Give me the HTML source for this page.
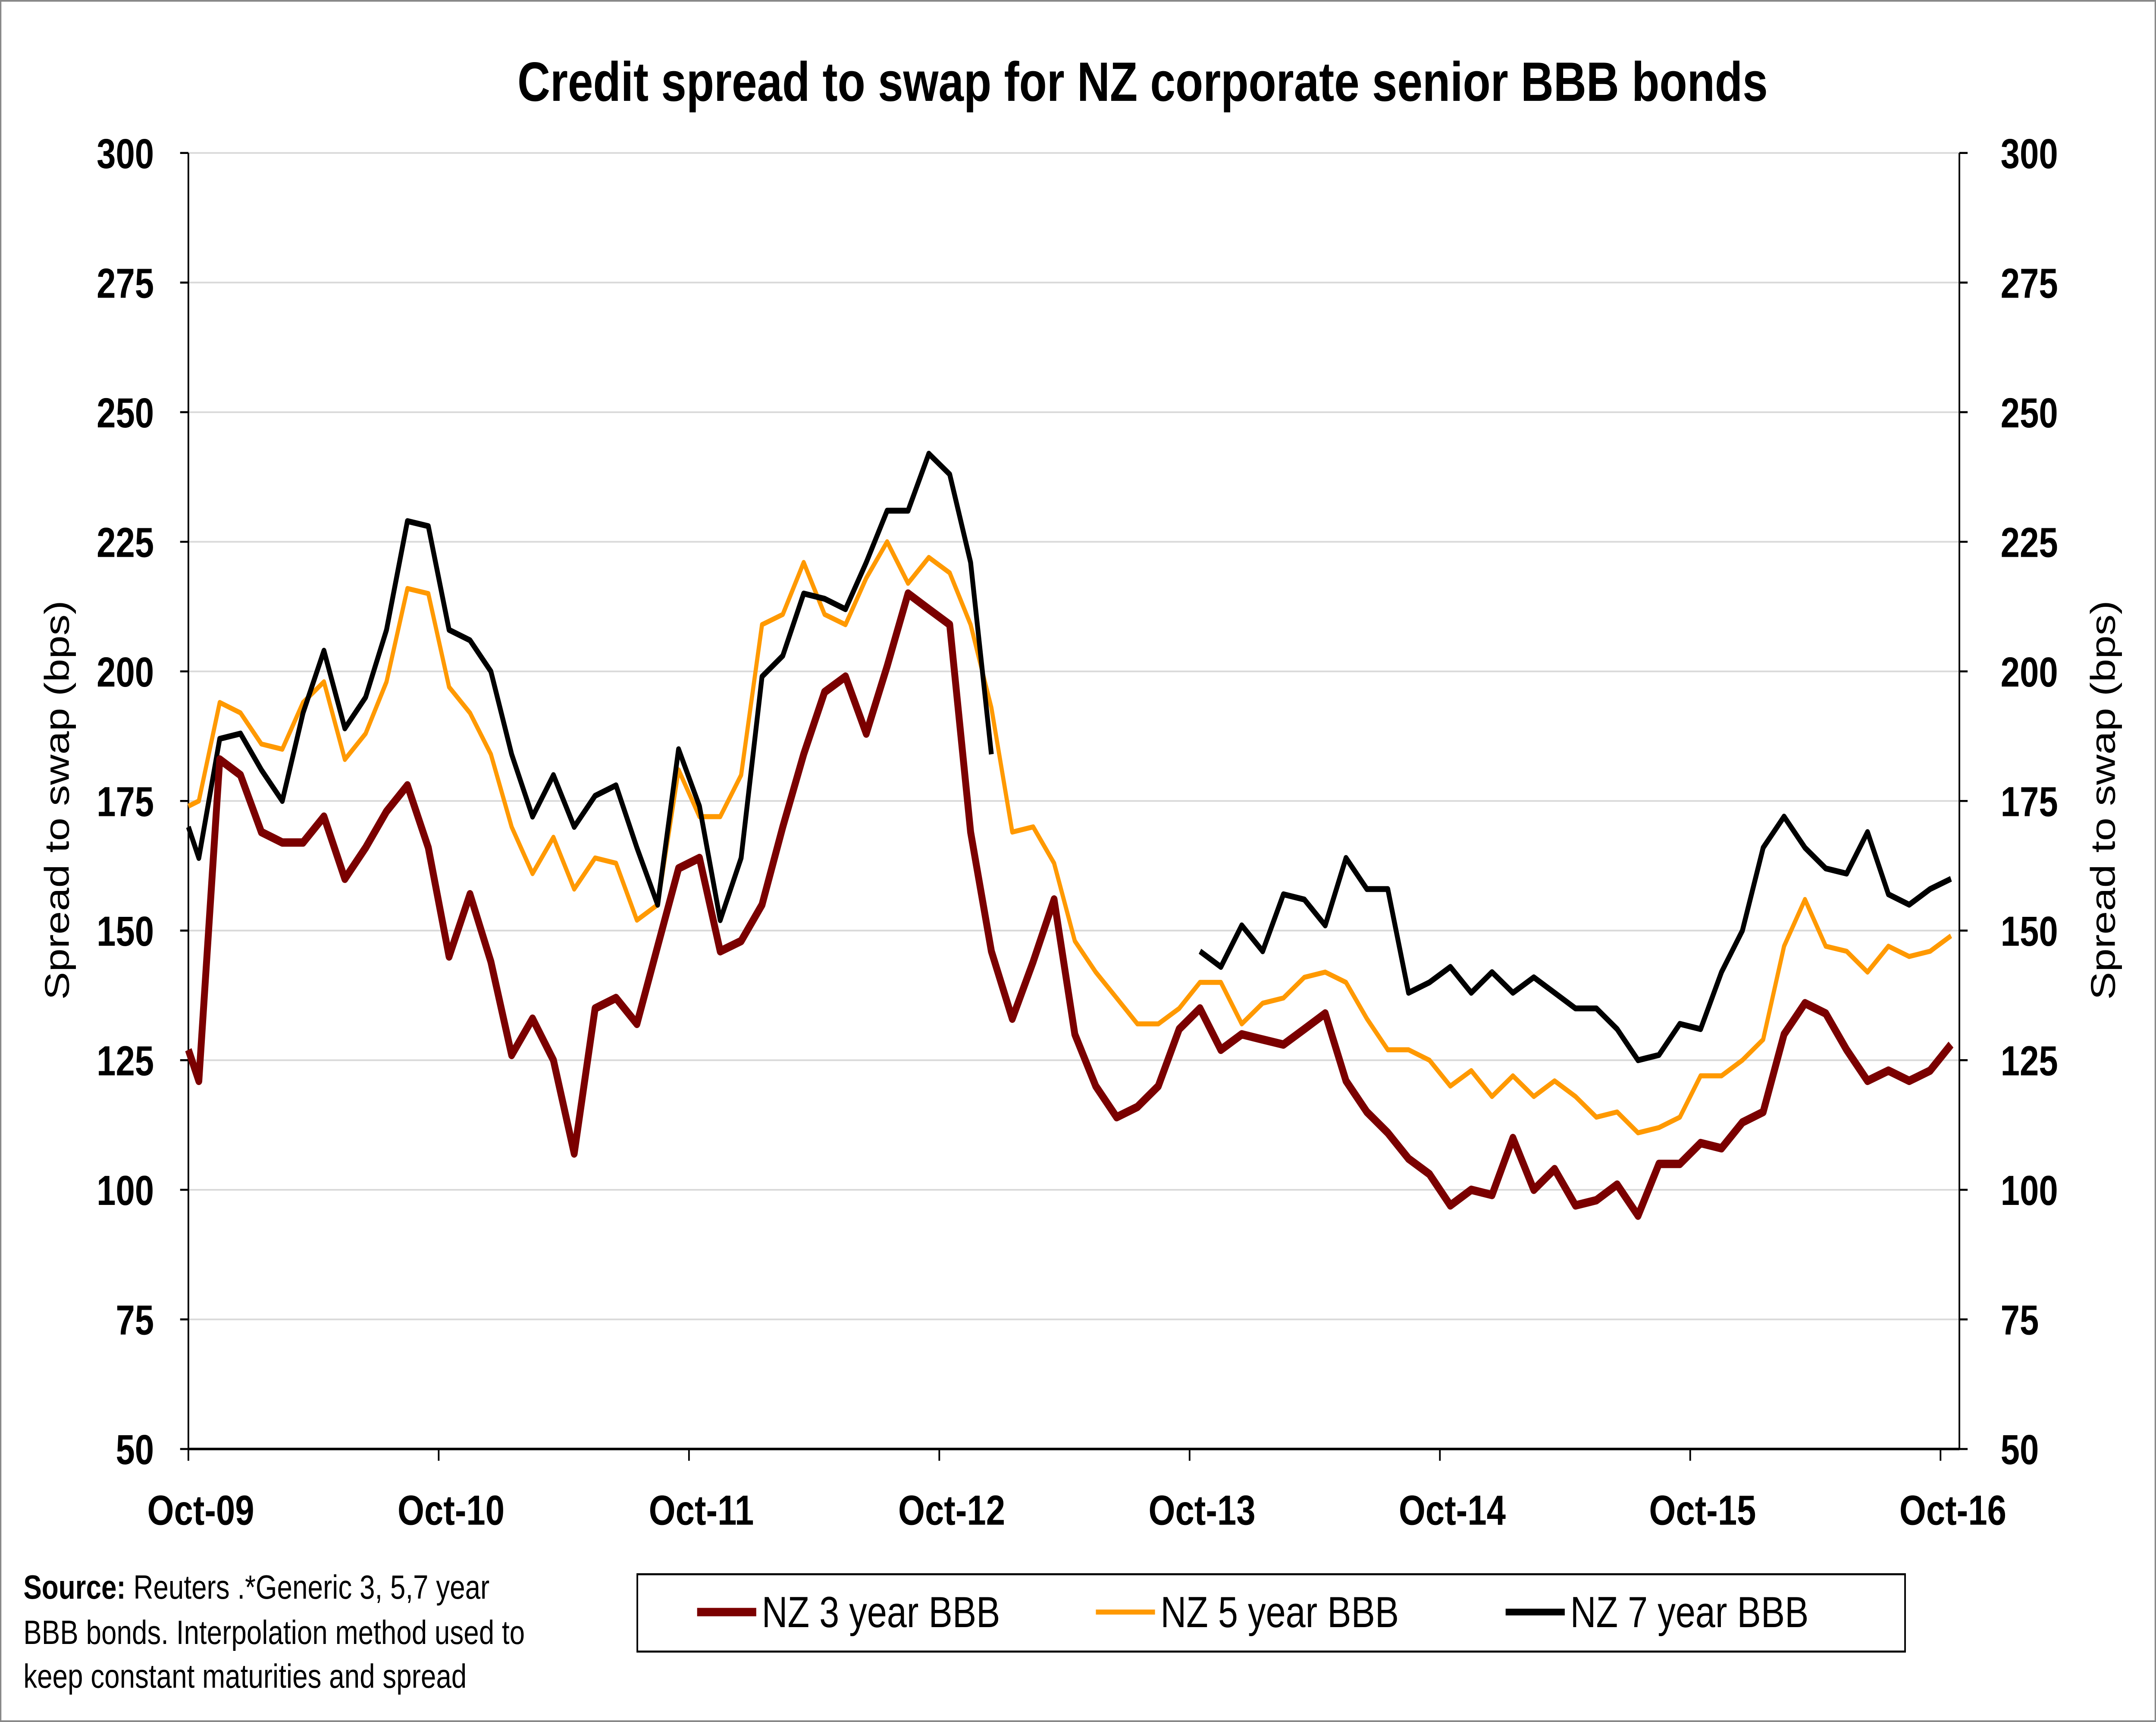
<!DOCTYPE html>
<html><head><meta charset="utf-8"><style>
html,body{margin:0;padding:0;background:#fff;width:100vw;height:100vh;overflow:hidden;}
svg{display:block;width:100vw;height:100vh;font-family:"Liberation Sans",Arial,sans-serif;}
</style></head><body>
<svg id="chart" viewBox="0 0 1568 1024.4" preserveAspectRatio="none" xmlns="http://www.w3.org/2000/svg">
<rect x="0.5" y="0.5" width="1567" height="1023.4" fill="#fff" stroke="#888" stroke-width="1"/>
<text x="831" y="60" text-anchor="middle" font-size="33" font-weight="bold">Credit spread to swap for NZ corporate senior BBB bonds</text>
<g id="grid"></g><g id="axes"></g><g id="series"></g>
<text transform="translate(50,476) rotate(-90)" text-anchor="middle" font-size="25">Spread to swap (bps)</text>
<text transform="translate(1538,476) rotate(-90)" text-anchor="middle" font-size="25">Spread to swap (bps)</text>
<g font-size="20">
<text x="17" y="951"><tspan font-weight="bold">Source:</tspan> Reuters .*Generic 3, 5,7 year</text>
<text x="17" y="978">BBB bonds. Interpolation method used to</text>
<text x="17" y="1004">keep constant maturities and spread</text>
</g>
<g>
<rect x="463.5" y="936.5" width="922" height="46" fill="#fff" stroke="#000" stroke-width="1.2"/>
<g><line x1="507" y1="959" x2="550" y2="959" stroke="#7b0000" stroke-width="5"/><text x="554" y="968" font-size="26">NZ 3 year BBB</text></g>
<g><line x1="797" y1="959" x2="840" y2="959" stroke="#ff9900" stroke-width="3"/><text x="844" y="968" font-size="26">NZ 5 year BBB</text></g>
<g><line x1="1095" y1="959" x2="1138" y2="959" stroke="#000" stroke-width="4"/><text x="1142" y="968" font-size="26">NZ 7 year BBB</text></g>
</g>
</svg>
<script>
const xLabels = ["Oct-09","Oct-10","Oct-11","Oct-12","Oct-13","Oct-14","Oct-15","Oct-16"];
const yTicks = [50,75,100,125,150,175,200,225,250,275,300];
const nz3 = [127,121,183,180,169,167,167,172,160,166,173,178,166,145,157,144,126,133,125,107,135,137,132,147,162,164,146,148,155,170,184,196,199,188,201,215,212,209,169,146,133,144,156,130,120,114,116,120,131,135,127,130,129,128,131,134,121,115,111,106,103,97,100,99,110,100,104,97,98,101,95,105,105,109,108,113,115,130,136,134,127,121,123,121,123,128];
const nz5 = [174,175,194,192,186,185,194,198,183,188,198,216,215,197,192,184,170,161,168,158,164,163,152,155,181,172,172,180,209,211,221,211,209,218,225,217,222,219,209,193,169,170,163,148,142,137,132,132,135,140,140,132,136,137,141,142,140,133,127,127,125,120,123,118,122,118,121,118,114,115,111,112,114,122,122,125,129,147,156,147,146,142,147,145,146,149];
const nz7 = [170,164,187,188,181,175,192,204,189,195,208,229,228,208,206,200,184,172,180,170,176,178,166,155,185,174,152,164,199,203,215,214,212,221,231,231,242,238,221,184,null,null,null,null,null,null,null,null,null,146,143,151,146,157,156,151,164,158,158,138,140,143,138,142,138,141,138,135,135,131,125,126,132,131,142,150,166,172,166,162,161,169,157,155,158,160];
const NS="http://www.w3.org/2000/svg";
const X0=137,X1=1425,YT=91,YB=862,MPX=15.17;
function xMonth(m){return X0+m*MPX;}
function xIdx(i){return xMonth(i===0?0:i-0.5);}
function y(v){return YB-(v-50)/250*(YB-YT);}
function mk(tag,attrs,parent){const e=document.createElementNS(NS,tag);for(const k in attrs)e.setAttribute(k,attrs[k]);parent.appendChild(e);return e;}
const grid=document.getElementById('grid'),axes=document.getElementById('axes'),ser=document.getElementById('series');
yTicks.forEach(v=>{
  if(v>50){const g=mk('line',{x1:X0,x2:X1,y1:y(v),y2:y(v),stroke:'#d9d9d9','stroke-width':1},grid);
  
  }
  const t1=mk('text',{x:112,y:y(v)+9,'text-anchor':'end','font-size':25,'font-weight':'bold'},axes);t1.textContent=v;
  
  
  const t2=mk('text',{x:1455,y:y(v)+9,'font-size':25,'font-weight':'bold'},axes);t2.textContent=v;
  
  
  mk('line',{x1:X0-6,x2:X0,y1:y(v),y2:y(v),stroke:'#000','stroke-width':1.2},axes);
  mk('line',{x1:X1,x2:X1+6,y1:y(v),y2:y(v),stroke:'#000','stroke-width':1.2},axes);
});
mk('line',{x1:X0,x2:X0,y1:YT,y2:YB,stroke:'#000','stroke-width':1.2},axes);
mk('line',{x1:X1,x2:X1,y1:YT,y2:YB,stroke:'#000','stroke-width':1.2},axes);
mk('line',{x1:X0,x2:X1,y1:YB,y2:YB,stroke:'#000','stroke-width':1.5},axes);
xLabels.forEach((l,i)=>{
  const x=xMonth(i*12);
  mk('line',{x1:x,x2:x,y1:YB,y2:YB+7,stroke:'#000','stroke-width':1.2},axes);
  const t=mk('text',{x:x+9,y:907,'text-anchor':'middle','font-size':25,'font-weight':'bold'},axes);t.textContent=l;
  
  
});
function line(vals,color,w,name){
  let d='',pen=false;
  vals.forEach((v,i)=>{if(v==null){pen=false;return;}d+=(pen?'L':'M')+xIdx(i).toFixed(1)+','+y(v).toFixed(1);pen=true;});
  const p=mk('path',{d:d,fill:'none',stroke:color,'stroke-width':w,'stroke-linejoin':'round'},ser);
  
  
}
line(nz5,'#ff9900',3,'series-nz-5yr');
line(nz7,'#000000',3.5,'series-nz-7yr');
line(nz3,'#7b0000',5,'series-nz-3yr');
</script>
</body></html>
